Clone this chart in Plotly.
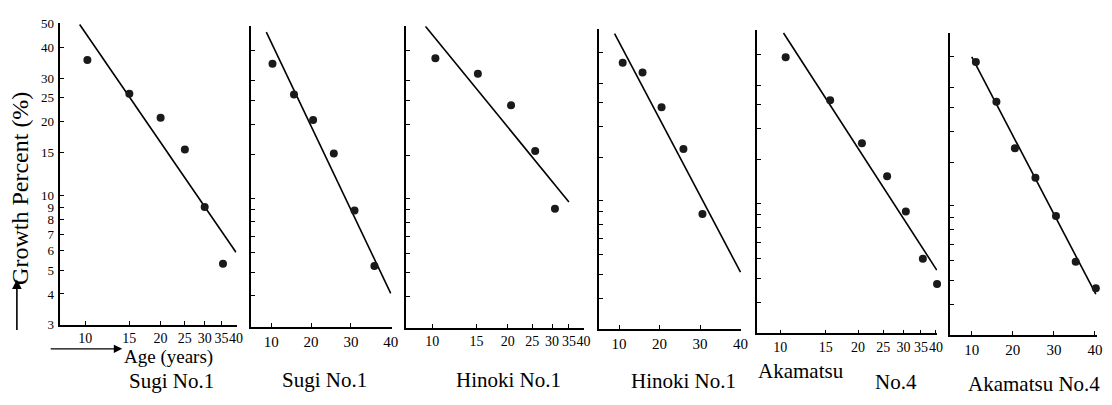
import math
import plotly.graph_objects as go

W, H = 1112, 405


def px(x):
    return x / W


def py(y):
    return 1 - y / H


# ---- data ----
panel_titles = ["Sugi No.1", "Sugi No.1", "Hinoki No.1", "Hinoki No.1", "Akamatsu No.4", "Akamatsu No.4"]

sugi_log_age = [10.2, 15, 20, 25, 30, 35.5]
sugi_log_growth = [35.5, 25.9, 20.7, 15.4, 9.0, 5.3]
sugi_lin_age = [10.3, 15.7, 20.5, 25.7, 30.9, 35.9]
sugi_lin_growth = [35.2, 26.4, 20.8, 15.2, 8.9, 5.3]

hinoki_log_age = [10.3, 15.2, 20.6, 25.7, 30.8]
hinoki_log_growth = [37.1, 32.1, 23.9, 15.6, 9.1]
hinoki_lin_age = [10.9, 15.8, 20.5, 25.9, 30.6]
hinoki_lin_growth = [36.5, 33.3, 24.0, 16.2, 8.8]

akamatsu_log_age = [10.5, 15.6, 20.7, 25.9, 30.6, 35.6, 40.4]
akamatsu_log_growth = [38.9, 26.1, 17.5, 12.9, 9.3, 6.0, 4.75]
akamatsu_lin_age = [11, 16, 20.5, 25.5, 30.5, 35.3, 40.2]
akamatsu_lin_growth = [38.2, 26.4, 17.1, 13.0, 9.1, 5.95, 4.65]

# fitted lines (end points)
fit1_age, fit1_growth = [9.5, 40], [49.5, 5.9]
fit2_age, fit2_growth = [8.75, 40], [47.3, 4.1]
fit3_age, fit3_growth = [9.4, 35], [50, 9.7]
fit4_age, fit4_growth = [8.9, 40], [47.9, 5.1]
fit5_age, fit5_growth = [10.3, 40.3], [48.7, 5.4]
fit6_age, fit6_growth = [10, 40.2], [40, 4.4]

y_tickvals = [3, 4, 5, 6, 7, 8, 9, 10, 15, 20, 25, 30, 40, 50]
x_log_ticks = [10, 15, 20, 25, 30, 35, 40]
x_lin_ticks = [10, 20, 30, 40]

panels = [
    dict(pts=(sugi_log_age, sugi_log_growth), fit=(fit1_age, fit1_growth), xlog=True,
         xr=(7.9, 40.2), xd=(60, 238), yd=(17, 330)),
    dict(pts=(sugi_lin_age, sugi_lin_growth), fit=(fit2_age, fit2_growth), xlog=False,
         xr=(5, 40.2), xd=(253, 394), yd=(20, 332)),
    dict(pts=(hinoki_log_age, hinoki_log_growth), fit=(fit3_age, fit3_growth), xlog=True,
         xr=(7.9, 40.3), xd=(409, 588), yd=(20, 333)),
    dict(pts=(hinoki_lin_age, hinoki_lin_growth), fit=(fit4_age, fit4_growth), xlog=False,
         xr=(5.1, 40.2), xd=(603, 746), yd=(23, 334)),
    dict(pts=(akamatsu_log_age, akamatsu_log_growth), fit=(fit5_age, fit5_growth), xlog=True,
         xr=(8.15, 40.4), xd=(762, 943), yd=(24, 339)),
    dict(pts=(akamatsu_lin_age, akamatsu_lin_growth), fit=(fit6_age, fit6_growth), xlog=False,
         xr=(4.7, 40.5), xd=(956, 1104), yd=(27, 341)),
]

FONT = "Liberation Serif"
fig = go.Figure()
layout = {}
for i, p in enumerate(panels, start=1):
    xa = "x" if i == 1 else f"x{i}"
    ya = "y" if i == 1 else f"y{i}"
    fig.add_trace(go.Scatter(x=p["fit"][0], y=p["fit"][1], mode="lines",
                             line=dict(color="black", width=1.6), xaxis=xa, yaxis=ya,
                             showlegend=False, cliponaxis=False))
    fig.add_trace(go.Scatter(x=p["pts"][0], y=p["pts"][1], mode="markers",
                             marker=dict(color="#1a1a1a", size=8), xaxis=xa, yaxis=ya,
                             showlegend=False, cliponaxis=False))
    if p["xlog"]:
        xr = [math.log10(p["xr"][0]), math.log10(p["xr"][1])]
        xt = x_log_ticks
        xfs = 14
    else:
        xr = list(p["xr"])
        xt = x_lin_ticks
        xfs = 15
    xkey = "xaxis" if i == 1 else f"xaxis{i}"
    ykey = "yaxis" if i == 1 else f"yaxis{i}"
    layout[xkey] = dict(
        domain=[px(p["xd"][0]), px(p["xd"][1])], range=xr,
        type="log" if p["xlog"] else "linear",
        anchor=ya, tickvals=xt, ticktext=[str(v) for v in xt], tickangle=0,
        ticks="inside", ticklen=4, tickcolor="black", tickwidth=1.2,
        showline=True, linecolor="black", linewidth=1.8,
        showgrid=False, zeroline=False,
        tickfont=dict(family=FONT, size=xfs, color="black"),
    )
    layout[ykey] = dict(
        domain=[py(p["yd"][1]), py(p["yd"][0])],
        range=[math.log10(3), math.log10(50)], type="log",
        anchor=xa, tickvals=y_tickvals, ticktext=[str(v) for v in y_tickvals],
        showticklabels=(i == 1), ticklabelstandoff=1,
        ticks="inside", ticklen=4, tickcolor="black", tickwidth=1.2,
        showline=True, linecolor="black", linewidth=1.8,
        showgrid=False, zeroline=False,
        tickfont=dict(family=FONT, size=13, color="black"),
    )

annotations = []
title_spec = [
    (panel_titles[0], 173, 388, "center"),
    (panel_titles[1], 327, 387, "center"),
    (panel_titles[2], 512, 387, "center"),
    (panel_titles[3], 688, 388, "center"),
    (panel_titles[4].split(" ")[0], 761, 378, "left"),
    (panel_titles[4].split(" ")[1], 879, 389, "left"),
    (panel_titles[5], 1109, 392, "right"),
]
for t, cx, cy, anc in title_spec:
    annotations.append(dict(text=t, x=px(cx), y=py(cy), xref="paper", yref="paper",
                            showarrow=False, xanchor=anc, yanchor="middle",
                            font=dict(family=FONT, size=21, color="black")))

annotations.append(dict(text="Growth Percent (%)", textangle=-90, x=px(20), y=py(188),
                        xref="paper", yref="paper", showarrow=False,
                        xanchor="center", yanchor="middle",
                        font=dict(family=FONT, size=24, color="black")))
annotations.append(dict(text="", x=px(17), y=py(283), xref="paper", yref="paper",
                        showarrow=True, ax=0, ay=52, arrowhead=2, arrowsize=1.2,
                        arrowwidth=1.6, arrowcolor="black"))
annotations.append(dict(text="Age (years)", x=px(123), y=py(363), xref="paper", yref="paper",
                        showarrow=False, xanchor="left", yanchor="middle",
                        font=dict(family=FONT, size=19, color="black")))
annotations.append(dict(text="", x=px(123), y=py(355), xref="paper", yref="paper",
                        showarrow=True, ax=-73, ay=0, arrowhead=2, arrowsize=1.2,
                        arrowwidth=1.4, arrowcolor="black"))

fig.update_layout(
    width=W, height=H, margin=dict(l=0, r=0, t=0, b=0),
    paper_bgcolor="white", plot_bgcolor="white",
    annotations=annotations, showlegend=False,
    font=dict(family=FONT, color="black"),
    **layout,
)
fig.write_html("out.html", config={"displayModeBar": False},
               post_script="document.body.style.margin='0';")
